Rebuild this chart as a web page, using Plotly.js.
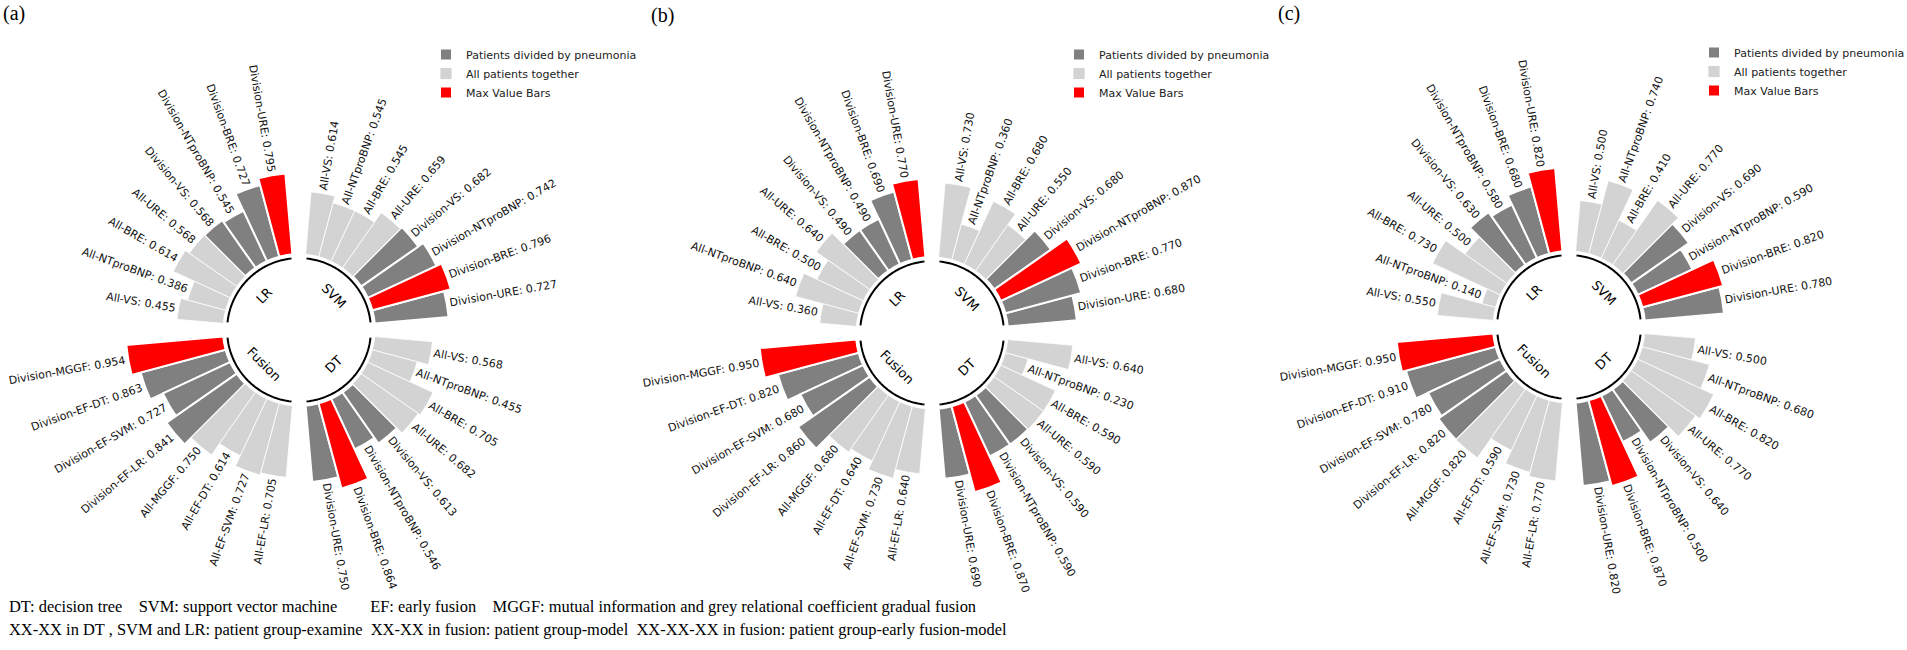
<!DOCTYPE html>
<html>
<head>
<meta charset="utf-8">
<script src="https://cdn.plot.ly/plotly-3.0.1.min.js"></script>
<style>
html,body{margin:0;padding:0;background:#ffffff;}
#chart{width:1907px;height:650px;}
</style>
</head>
<body>
<div id="chart"></div>
<script>
// ---------------- DATA ----------------
// bar order (counter-clockwise inside each group)
const examineLabels = ['Division-URE','Division-BRE','Division-NTproBNP','Division-VS','All-URE','All-BRE','All-NTproBNP','All-VS'];
const fusionLabels  = ['Division-MGGF','Division-EF-DT','Division-EF-SVM','Division-EF-LR','All-MGGF','All-EF-DT','All-EF-SVM','All-EF-LR'];
const modelNames = ['SVM','LR','Fusion','DT'];
const panelLetters = ['(a)','(b)','(c)'];
const legendNames = ['Patients divided by pneumonia','All patients together','Max Value Bars'];

// panel (a)
const a_LR     = [0.795, 0.727, 0.545, 0.568, 0.568, 0.614, 0.386, 0.455];
const a_SVM    = [0.727, 0.796, 0.742, 0.682, 0.659, 0.545, 0.545, 0.614];
const a_DT     = [0.750, 0.864, 0.546, 0.613, 0.682, 0.705, 0.455, 0.568];
const a_Fusion = [0.954, 0.863, 0.727, 0.841, 0.750, 0.614, 0.727, 0.705];
// panel (b)
const b_LR     = [0.770, 0.690, 0.490, 0.490, 0.640, 0.500, 0.640, 0.360];
const b_SVM    = [0.680, 0.770, 0.870, 0.680, 0.550, 0.680, 0.360, 0.730];
const b_DT     = [0.690, 0.870, 0.590, 0.590, 0.590, 0.590, 0.230, 0.640];
const b_Fusion = [0.950, 0.820, 0.680, 0.860, 0.680, 0.640, 0.730, 0.640];
// panel (c)
const c_LR     = [0.820, 0.680, 0.580, 0.630, 0.500, 0.730, 0.140, 0.550];
const c_SVM    = [0.780, 0.820, 0.590, 0.690, 0.770, 0.410, 0.740, 0.500];
const c_DT     = [0.820, 0.870, 0.500, 0.640, 0.770, 0.820, 0.680, 0.500];
const c_Fusion = [0.950, 0.910, 0.780, 0.820, 0.820, 0.590, 0.730, 0.770];

const footLine1 = 'DT: decision tree\u00A0\u00A0\u00A0\u00A0SVM: support vector machine\u00A0\u00A0\u00A0\u00A0\u00A0\u00A0\u00A0\u00A0EF: early fusion\u00A0\u00A0\u00A0\u00A0MGGF: mutual information and grey relational coefficient gradual fusion';
const footLine2 = 'XX-XX in DT , SVM and LR: patient group-examine\u00A0\u00A0XX-XX in fusion: patient group-model\u00A0\u00A0XX-XX-XX in fusion: patient group-early fusion-model';

// ---------------- LAYOUT CONSTANTS ----------------
const W = 1907, H = 650;
const R_PX = 178, HOLE = 0.169, RMIN = -0.45, RMAX = 1.0;
const ARC_R = -0.04, GROUP_LABEL_R = -0.265;
const SLOT = 10, PAD = 3;
const COL_DARK = '#808080', COL_LIGHT = '#d3d3d3', COL_RED = '#ff0000';
const LABEL_FONT = 11, FAMILY = 'DejaVu Sans';
const centersPx = [[299,330],[932,333],[1569,327]];
const groupCenterDeg = {SVM:45, LR:135, Fusion:225, DT:315};
const legendPos = [[426,40],[1059,40],[1694,38]];
const letterPos = [[14,14],[662,15],[1289,14]];

const panelData = [
  {LR:a_LR, SVM:a_SVM, DT:a_DT, Fusion:a_Fusion},
  {LR:b_LR, SVM:b_SVM, DT:b_DT, Fusion:b_Fusion},
  {LR:c_LR, SVM:c_SVM, DT:c_DT, Fusion:c_Fusion}
];

const cvs = document.createElement('canvas');
const ctx = cvs.getContext('2d');
function textWidth(t, size, fam){ ctx.font = size + 'px "' + fam + '"'; return ctx.measureText(t).width; }
function radPx(r){ const h = HOLE*R_PX; return h + (r-RMIN)/(RMAX-RMIN)*(R_PX-h); }
function norm(a){ a = ((a % 360) + 360) % 360; if (a > 180) a -= 360; return a; }

const traces = [];
const annotations = [];
const layout = {
  width: W, height: H, margin:{l:0,r:0,t:0,b:0,autoexpand:false},
  paper_bgcolor:'#ffffff', plot_bgcolor:'#ffffff',
  showlegend: true, hovermode:false,
  font:{family:FAMILY, color:'#111'}
};

panelData.forEach((pd, pi) => {
  const polarKey = pi === 0 ? 'polar' : 'polar' + (pi+1);
  const legendKey = pi === 0 ? 'legend' : 'legend' + (pi+1);
  const [cx, cy] = centersPx[pi];
  layout[polarKey] = {
    domain:{x:[(cx-R_PX)/W, (cx+R_PX)/W], y:[(H-cy-R_PX)/H, (H-cy+R_PX)/H]},
    hole: HOLE,
    bgcolor:'rgba(0,0,0,0)',
    radialaxis:{range:[RMIN,RMAX], visible:false, showgrid:false},
    angularaxis:{visible:false, showgrid:false, direction:'counterclockwise', rotation:0, thetaunit:'degrees'}
  };
  layout[legendKey] = {
    x: legendPos[pi][0]/W, y: 1 - legendPos[pi][1]/H, xanchor:'left', yanchor:'top',
    font:{family:FAMILY, size:11, color:'#222'}, bgcolor:'rgba(0,0,0,0)', borderwidth:0,
    itemclick:false, itemdoubleclick:false
  };
  const sets = {dark:{t:[],r:[]}, light:{t:[],r:[]}, red:{t:[],r:[]}};
  modelNames.forEach(g => {
    const vals = pd[g];
    const labels = g === 'Fusion' ? fusionLabels : examineLabels;
    const c = groupCenterDeg[g];
    const maxV = Math.max(...vals);
    vals.forEach((v, k) => {
      const th = c + (k - 3.5)*SLOT;
      const lab = labels[k];
      const kind = (v === maxV) ? 'red' : (lab.startsWith('Division') ? 'dark' : 'light');
      sets[kind].t.push(th); sets[kind].r.push(v);
      // value label
      const txt = lab + ': ' + v.toFixed(3);
      const w = textWidth(txt, LABEL_FONT, FAMILY);
      const rad = th*Math.PI/180;
      const rp = radPx(v) + PAD + w/2;
      const x = cx + rp*Math.cos(rad), y = cy - rp*Math.sin(rad);
      const ang = Math.cos(rad) > 0 ? norm(-th) : norm(-(th+180));
      annotations.push({xref:'paper', yref:'paper', x:x/W, y:1-y/H, xanchor:'center', yanchor:'middle',
        text:txt, textangle:ang, showarrow:false, font:{family:FAMILY, size:LABEL_FONT, color:'#111'}, borderpad:0});
    });
    // group arc
    const arcT = [], arcR = [];
    for (let a = c - 39; a <= c + 39.001; a += 1) { arcT.push(a); arcR.push(ARC_R); }
    traces.push({type:'scatterpolar', subplot:polarKey, mode:'lines', theta:arcT, r:arcR,
      line:{color:'#000', width:2}, showlegend:false, hoverinfo:'skip'});
    // group label
    const grad = c*Math.PI/180;
    const gp = radPx(GROUP_LABEL_R);
    const gx = cx + gp*Math.cos(grad), gy = cy - gp*Math.sin(grad);
    const gang = Math.sin(grad) > 0 ? norm(90 - c) : norm(-(c+90));
    annotations.push({xref:'paper', yref:'paper', x:gx/W, y:1-gy/H, xanchor:'center', yanchor:'middle',
      text:g, textangle:gang, showarrow:false, font:{family:FAMILY, size:13, color:'#000'}});
  });
  const spec = [['dark', COL_DARK, legendNames[0], 2], ['light', COL_LIGHT, legendNames[1], 0.8], ['red', COL_RED, legendNames[2], 2]];
  spec.forEach(([kind, col, nm, lw]) => {
    traces.push({type:'barpolar', subplot:polarKey, legend:legendKey, name:nm,
      theta:sets[kind].t, r:sets[kind].r, base:0, width:SLOT,
      marker:{color:col, line:{color:'#ffffff', width:lw}}, hoverinfo:'skip'});
  });
  // panel letter
  annotations.push({xref:'paper', yref:'paper', x:letterPos[pi][0]/W, y:1-letterPos[pi][1]/H,
    xanchor:'center', yanchor:'middle', text:panelLetters[pi], showarrow:false,
    font:{family:'Liberation Serif', size:20, color:'#000'}});
});

// footnote
const fw = textWidth(footLine1, 16, 'Liberation Serif');
const footSize = Math.min(16.5, 16*968/fw);
annotations.push({xref:'paper', yref:'paper', x:7/W, y:1-606/H, xanchor:'left', yanchor:'middle',
  text:footLine1, showarrow:false, font:{family:'Liberation Serif', size:footSize, color:'#000'}});
annotations.push({xref:'paper', yref:'paper', x:7/W, y:1-629/H, xanchor:'left', yanchor:'middle',
  text:footLine2, showarrow:false, font:{family:'Liberation Serif', size:footSize, color:'#000'}});

layout.annotations = annotations;
Plotly.newPlot('chart', traces, layout, {displayModeBar:false, staticPlot:true});
</script>
</body>
</html>
